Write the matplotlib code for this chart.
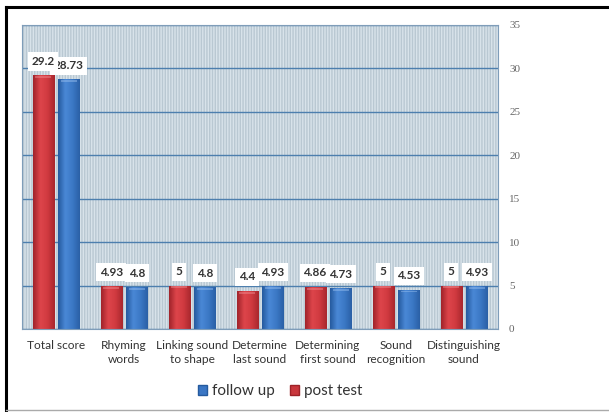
import numpy as np
import matplotlib
matplotlib.use("Agg")
import matplotlib.pyplot as plt
from matplotlib.patches import Rectangle, Patch
from matplotlib.colors import LinearSegmentedColormap
from matplotlib.lines import Line2D

categories = ["Total score", "Rhyming\nwords", "Linking sound\nto shape",
              "Determine\nlast sound", "Determining\nfirst sound",
              "Sound\nrecognition", "Distinguishing\nsound"]
post_test = [29.2, 4.93, 5, 4.4, 4.86, 5, 5]
follow_up = [28.73, 4.8, 4.8, 4.93, 4.73, 4.53, 4.93]
yticks = [0, 5, 10, 15, 20, 25, 30, 35]

RED = "#c9373d"
BLUE = "#3a76c4"
FONT = "Lato"

fig = plt.figure(figsize=(6.09, 4.12), dpi=100)
fig.patch.set_facecolor("white")
ax = fig.add_axes([22 / 609, 1 - 329 / 412, (498 - 22) / 609, (329 - 25) / 412])

x = np.arange(len(categories))
w = 0.31
off = 0.19

# hatched plot-area background
ax.set_facecolor("#d5e0e7")
bg = Rectangle((0, 0), 1, 1, transform=ax.transAxes, facecolor="#d8e3ea",
               edgecolor="#b9c8d2", hatch="||||||", linewidth=0, zorder=0)
ax.add_patch(bg)

ax.set_yticks(yticks)
ax.yaxis.grid(True, color="#4d7fae", linewidth=1.0, zorder=1)
ax.set_axisbelow(True)

cmap_red = LinearSegmentedColormap.from_list("r", ["#a0232a", "#de454b", "#d03a40", "#a8272d"])
cmap_blue = LinearSegmentedColormap.from_list("b", ["#255a9e", "#4a88d6", "#3b78c5", "#2a60a6"])
grad = np.linspace(0, 1, 64).reshape(1, -1)


def shaded_bars(xs, vals, color, cmap, top_color):
    bars = ax.bar(xs, vals, width=w, color=color, edgecolor="none", zorder=2)
    for b in bars:
        x0, hgt, bw = b.get_x(), b.get_height(), b.get_width()
        im = ax.imshow(grad, cmap=cmap, aspect="auto", extent=[x0, x0 + bw, 0, hgt],
                       zorder=2.1, interpolation="bicubic")
        im.set_clip_path(b)
        cap = Rectangle((x0 + bw * 0.12, hgt - 0.32), bw * 0.76, 0.22, facecolor=top_color,
                        edgecolor="none", alpha=0.45, zorder=2.2)
        ax.add_patch(cap)
    return bars


shaded_bars(x - off, post_test, RED, cmap_red, "#f09095")
shaded_bars(x + off, follow_up, BLUE, cmap_blue, "#9cc2f0")
ax.set_xlim(-0.5, len(categories) - 0.5)
ax.set_ylim(0, 35)

box = dict(boxstyle="square,pad=0.3", facecolor="white", edgecolor="none")
for xi, v in zip(x + off, follow_up):
    ax.text(xi, v + 1.6, f"{v:g}", ha="center", va="center", fontsize=8.5,
            fontweight="bold", color="#333333", bbox=box, zorder=5, family=FONT)
for xi, v in zip(x - off, post_test):
    ax.text(xi, v + 1.6, f"{v:g}", ha="center", va="center", fontsize=8.5,
            fontweight="bold", color="#333333", bbox=box, zorder=6, family=FONT)

ax.set_xticks(x)
ax.set_xticklabels(categories, fontsize=8.6, color="#333333", family=FONT, linespacing=1.3)
ax.yaxis.tick_right()
ax.tick_params(axis="y", length=0, pad=8, labelsize=8, labelcolor="#666666")
for lab in ax.get_yticklabels():
    lab.set_family("Liberation Serif")
ax.tick_params(axis="x", length=0, pad=8)

for s in ax.spines.values():
    s.set_color("#7f9db9")
    s.set_linewidth(0.8)

handles = [Patch(facecolor=BLUE, edgecolor="#255a9e"), Patch(facecolor=RED, edgecolor="#9e2228")]
leg = fig.legend(handles, ["follow up", "post test"], loc="center", bbox_to_anchor=(0.46, 0.05),
                 ncol=2, frameon=False, handlelength=0.6, handleheight=0.6, handletextpad=0.3,
                 columnspacing=1.0, prop={"family": FONT, "size": 11})
for t in leg.get_texts():
    t.set_color("#333333")

# outer frame
fig.add_artist(Line2D([6 / 609, 6 / 609], [2 / 412, 1 - 7 / 412], transform=fig.transFigure,
                      color="black", linewidth=2.2))
fig.add_artist(Line2D([6 / 609, 1], [1 - 7 / 412, 1 - 7 / 412], transform=fig.transFigure,
                      color="black", linewidth=2.2))
fig.add_artist(Line2D([6 / 609, 1], [2 / 412, 2 / 412], transform=fig.transFigure,
                      color="#aaaaaa", linewidth=1.0))

fig.savefig("out.png", dpi=100)
